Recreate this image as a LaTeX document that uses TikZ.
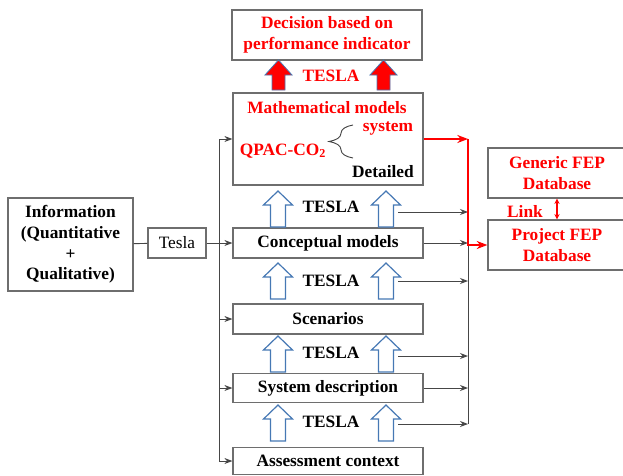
\documentclass[tikz,border=0pt]{standalone}
\usepackage{fontspec}
\setmainfont{Liberation Serif}
\usetikzlibrary{arrows.meta,decorations.pathreplacing}
\definecolor{boxgray}{RGB}{110,110,110}
\definecolor{linegray}{RGB}{70,70,70}
\definecolor{arrowblue}{RGB}{70,120,180}
\definecolor{fepred}{RGB}{255,0,0}

\begin{document}
\begin{tikzpicture}[x=0.75pt, y=-0.75pt,
    box/.style={draw=boxgray, line width=0.9pt, inner sep=0pt, align=center,
                font=\fontsize{13}{15.6}\selectfont\bfseries},
    redtext/.style={text=fepred, inner sep=0pt, font=\fontsize{13}{15.6}\selectfont\bfseries},
    boldtext/.style={inner sep=0pt, font=\fontsize{13}{15.6}\selectfont\bfseries},
    conn/.style={draw=linegray, line width=0.7pt, -{Stealth[length=6pt,width=4.5pt]}},
    bus/.style={draw=linegray, line width=0.7pt},
    redconn/.style={draw=fepred, line width=1.6pt, -{Stealth[length=8pt,width=6pt]}},
    hollow/.pic={\draw[arrowblue, line width=0.9pt, fill=white]
        (-7.5,0) -- (-7.5,-22) -- (-14.5,-22) -- (0,-36) -- (14.5,-22) -- (7.5,-22) -- (7.5,0) -- cycle;},
    solidred/.pic={\draw[arrowblue, line width=0.6pt, fill=fepred]
        (-6.5,0) -- (-6.5,-15) -- (-13.5,-15) -- (0,-30) -- (13.5,-15) -- (6.5,-15) -- (6.5,0) -- cycle;}]

    \useasboundingbox (0,0) rectangle (623,475);

    % Decision
    \node [box, text=fepred, minimum width=142.5pt, minimum height=37.5pt] (decision) at (327,35)
          {Decision based on\\performance indicator};
    \pic at (278.5,90) {solidred};
    \pic at (383.5,90) {solidred};
    \node [redtext] (teslared) at (331,76) {TESLA};

    % Mathematical models
    \node [box, minimum width=142.5pt, minimum height=69pt] (math) at (328,139) {};
    \node [redtext] (mtitle) at (327,108) {Mathematical models};
    \node [redtext] (msys) at (388,128) {system};
    \node [redtext] (mqpac) at (283,151) {QPAC-CO\textsubscript{2}};
    \node [boldtext] (mdet) at (383,172) {Detailed};
    \coordinate (brbot) at (353,158);
    \coordinate (brtop) at (353,125);
    \draw [decorate, decoration={brace, amplitude=18pt}, linegray, line width=0.7pt] (brbot) -- (brtop);

    % Stack of models
    \node [box, minimum width=142.5pt, minimum height=22.5pt] (concept) at (328,243) {Conceptual models};
    \node [box, minimum width=142.5pt, minimum height=22.5pt] (scen) at (328,319) {Scenarios};
    \node [box, minimum width=142.5pt, minimum height=22pt] (sysd) at (328,388) {System description};
    \node [box, minimum width=142.5pt, minimum height=20.25pt] (assess) at (328,461) {Assessment context};

    % Hollow TESLA arrows
    \foreach \yb in {227, 299, 372, 441} {
        \pic at (278,\yb) {hollow};
        \pic at (386,\yb) {hollow};
    }
    \foreach \y/\n in {207/1, 281/2, 353/3, 422/4}
        \node [boldtext] (tesla\n) at (331,\y) {TESLA};

    % Information
    \node [box, minimum width=93.75pt, minimum height=69.75pt] (info) at (70.5,244.5)
          {Information\\(Quantitative\\+\\Qualitative)};
    \node [box, font=\fontsize{13}{15.6}\selectfont, minimum width=43.5pt, minimum height=22.5pt] (tesla) at (177,243) {Tesla};

    % FEP databases
    \node [box, text=fepred, minimum width=103.5pt, minimum height=37.5pt] (generic) at (557,173) {Generic FEP\\Database};
    \node [box, text=fepred, minimum width=103.5pt, minimum height=37.5pt] (project) at (557,245) {Project FEP\\Database};
    \draw [fepred, line width=0.8pt, {Stealth[length=4pt,width=4pt]}-{Stealth[length=4pt,width=4pt]}]
          (generic.south) -- (project.north);
    \node [redtext] (link) at (525,211) {Link};

    % Left bus
    \coordinate (lbus) at (219,0);
    \draw [bus] (info) -- (tesla);
    \draw [conn] (tesla) -- (concept);
    \draw [bus] (lbus |- math.west) -- (lbus |- assess.west);
    \foreach \b in {math, scen, sysd, assess}
        \draw [conn] (lbus |- \b.west) -- (\b.west);

    % Right bus
    \coordinate (rbus) at (468,0);
    \foreach \y/\n in {212/1, 281/2, 356/3, 424/4} {
        \coordinate (out\n) at (398,\y);
        \draw [conn] (out\n) -- (out\n -| rbus);
    }
    \draw [bus] (out1 -| rbus) -- (out4 -| rbus);
    \draw [conn] (concept.east) -- (concept.east -| rbus);
    \draw [conn] (sysd.east) -- (sysd.east -| rbus);

    % Red link to project database
    \draw [redconn] (math.east) -- (math.east -| rbus);
    \draw [redconn] (math.east -| rbus) |- (project.west);
\end{tikzpicture}
\end{document}
